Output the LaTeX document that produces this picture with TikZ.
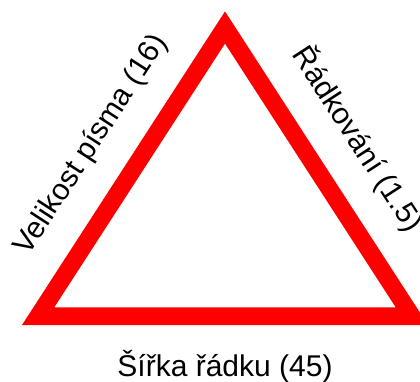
\documentclass[tikz,border=0pt]{standalone}
\usepackage{fontspec}
\setmainfont{Liberation Sans}
\begin{document}
\begin{tikzpicture}[x=1bp,y=1bp,
  lbl/.style={font=\fontsize{30bp}{35bp}\selectfont, inner sep=0pt, anchor=base},
  side/.style={draw=red, line width=17.5bp, line join=miter}]
\useasboundingbox (0,0) rectangle (420,382);
\clip (0,0) rectangle (420,382);
\coordinate (A) at (225,354.5);
\coordinate (B) at (38.1,65.75);
\coordinate (C) at (411.9,65.75);
\draw[side] (A) -- (B) -- (C) -- cycle;
\node[lbl, rotate=57] (left) at (98,232.5) {Velikost písma (16)};
\node[lbl, rotate=-57] (right) at (349.6,237.5) {Řádkování (1.5)};
\node[lbl] (bottom) at (225,6) {Šířka řádku (45)};
\end{tikzpicture}
\end{document}
